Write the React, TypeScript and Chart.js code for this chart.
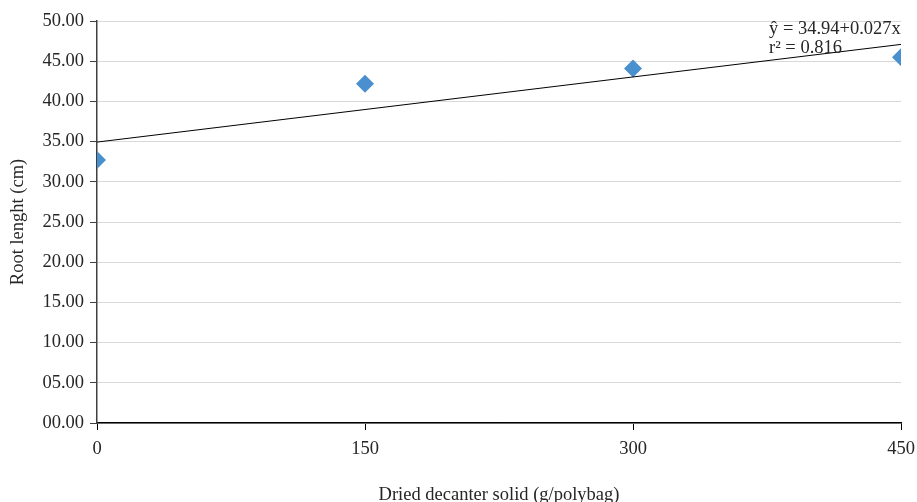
import React, { useEffect, useRef } from "react";
import { Chart, registerables } from "chart.js";

Chart.register(...registerables);

const doses = [0, 150, 300, 450];
const rootLength = [32.7, 42.2, 44.1, 45.5];
const trendX = [0, 450];
const trendY = [34.94, 34.94 + 0.027 * 450];
const equationLines = ["ŷ = 34.94+0.027x", "r² = 0.816"];
const xTitle = "Dried decanter solid (g/polybag)";
const yTitle = "Root lenght (cm)";

const FONT = "'Liberation Serif', 'Times New Roman', serif";
const FS = 18.5;

const equationPlugin = {
  id: "equation",
  afterDatasetsDraw(chart: any) {
    const { ctx, chartArea } = chart;
    ctx.save();
    ctx.font = `${FS}px ${FONT}`;
    ctx.fillStyle = "#262626";
    ctx.textAlign = "left";
    ctx.textBaseline = "middle";
    const x = chartArea.right - 132;
    ctx.fillText(equationLines[0], x, chartArea.top + 8);
    ctx.fillText(equationLines[1], x, chartArea.top + 27);
    ctx.restore();
  },
};

export default function App() {
  const ref = useRef<HTMLCanvasElement>(null);
  useEffect(() => {
    if (!ref.current) return;
    const chart = new Chart(ref.current, {
      type: "scatter",
      data: {
        datasets: [
          {
            type: "line",
            label: "trend",
            data: trendX.map((x, i) => ({ x, y: trendY[i] })),
            borderColor: "#000000",
            borderWidth: 1,
            pointRadius: 0,
            fill: false,
          } as any,
          {
            label: "Root length",
            data: doses.map((x, i) => ({ x, y: rootLength[i] })),
            pointStyle: "rectRot",
            pointRadius: 9,
            pointHoverRadius: 9,
            backgroundColor: "#4A90CE",
            borderColor: "#4A90CE",
            borderWidth: 0,
          },
        ],
      },
      options: {
        animation: false,
        responsive: false,
        events: [],
        layout: { padding: { top: 21, right: 16, left: 0, bottom: 0 } },
        plugins: { legend: { display: false }, tooltip: { enabled: false } },
        scales: {
          x: {
            type: "linear",
            min: 0,
            max: 450,
            afterFit: (s: any) => {
              s.height = 79;
              s.paddingRight = 0;
              s.paddingLeft = 0;
            },
            ticks: {
              stepSize: 150,
              color: "#262626",
              font: { family: FONT, size: FS },
              padding: 8,
            },
            grid: {
              drawOnChartArea: false,
              drawTicks: true,
              tickLength: 7,
              tickColor: "#000000",
            },
            border: { color: "#000000", width: 1.5 },
            title: {
              display: true,
              text: xTitle,
              color: "#262626",
              font: { family: FONT, size: FS },
              padding: { top: 0, bottom: -4 },
            },
          },
          y: {
            type: "linear",
            min: 0,
            max: 50,
            afterFit: (s: any) => {
              s.width = 97;
            },
            ticks: {
              stepSize: 5,
              color: "#262626",
              font: { family: FONT, size: FS },
              padding: 6,
              callback: (v: any) => Number(v).toFixed(2).padStart(5, "0"),
            },
            grid: {
              color: "#D9D9D9",
              lineWidth: 1,
              drawTicks: true,
              tickLength: 7,
              tickColor: "#404040",
            },
            border: { color: "#404040", width: 1.5 },
            title: {
              display: true,
              text: yTitle,
              color: "#262626",
              font: { family: FONT, size: FS },
              padding: { top: 7, bottom: 0 },
            },
          },
        },
      },
      plugins: [equationPlugin],
    });
    return () => chart.destroy();
  }, []);
  return (
    <div style={{ position: "absolute", left: 0, top: 0, width: 917, height: 502, background: "#fff" }}>
      <canvas ref={ref} width={917} height={502} style={{ width: 917, height: 502 }} />
    </div>
  );
}
